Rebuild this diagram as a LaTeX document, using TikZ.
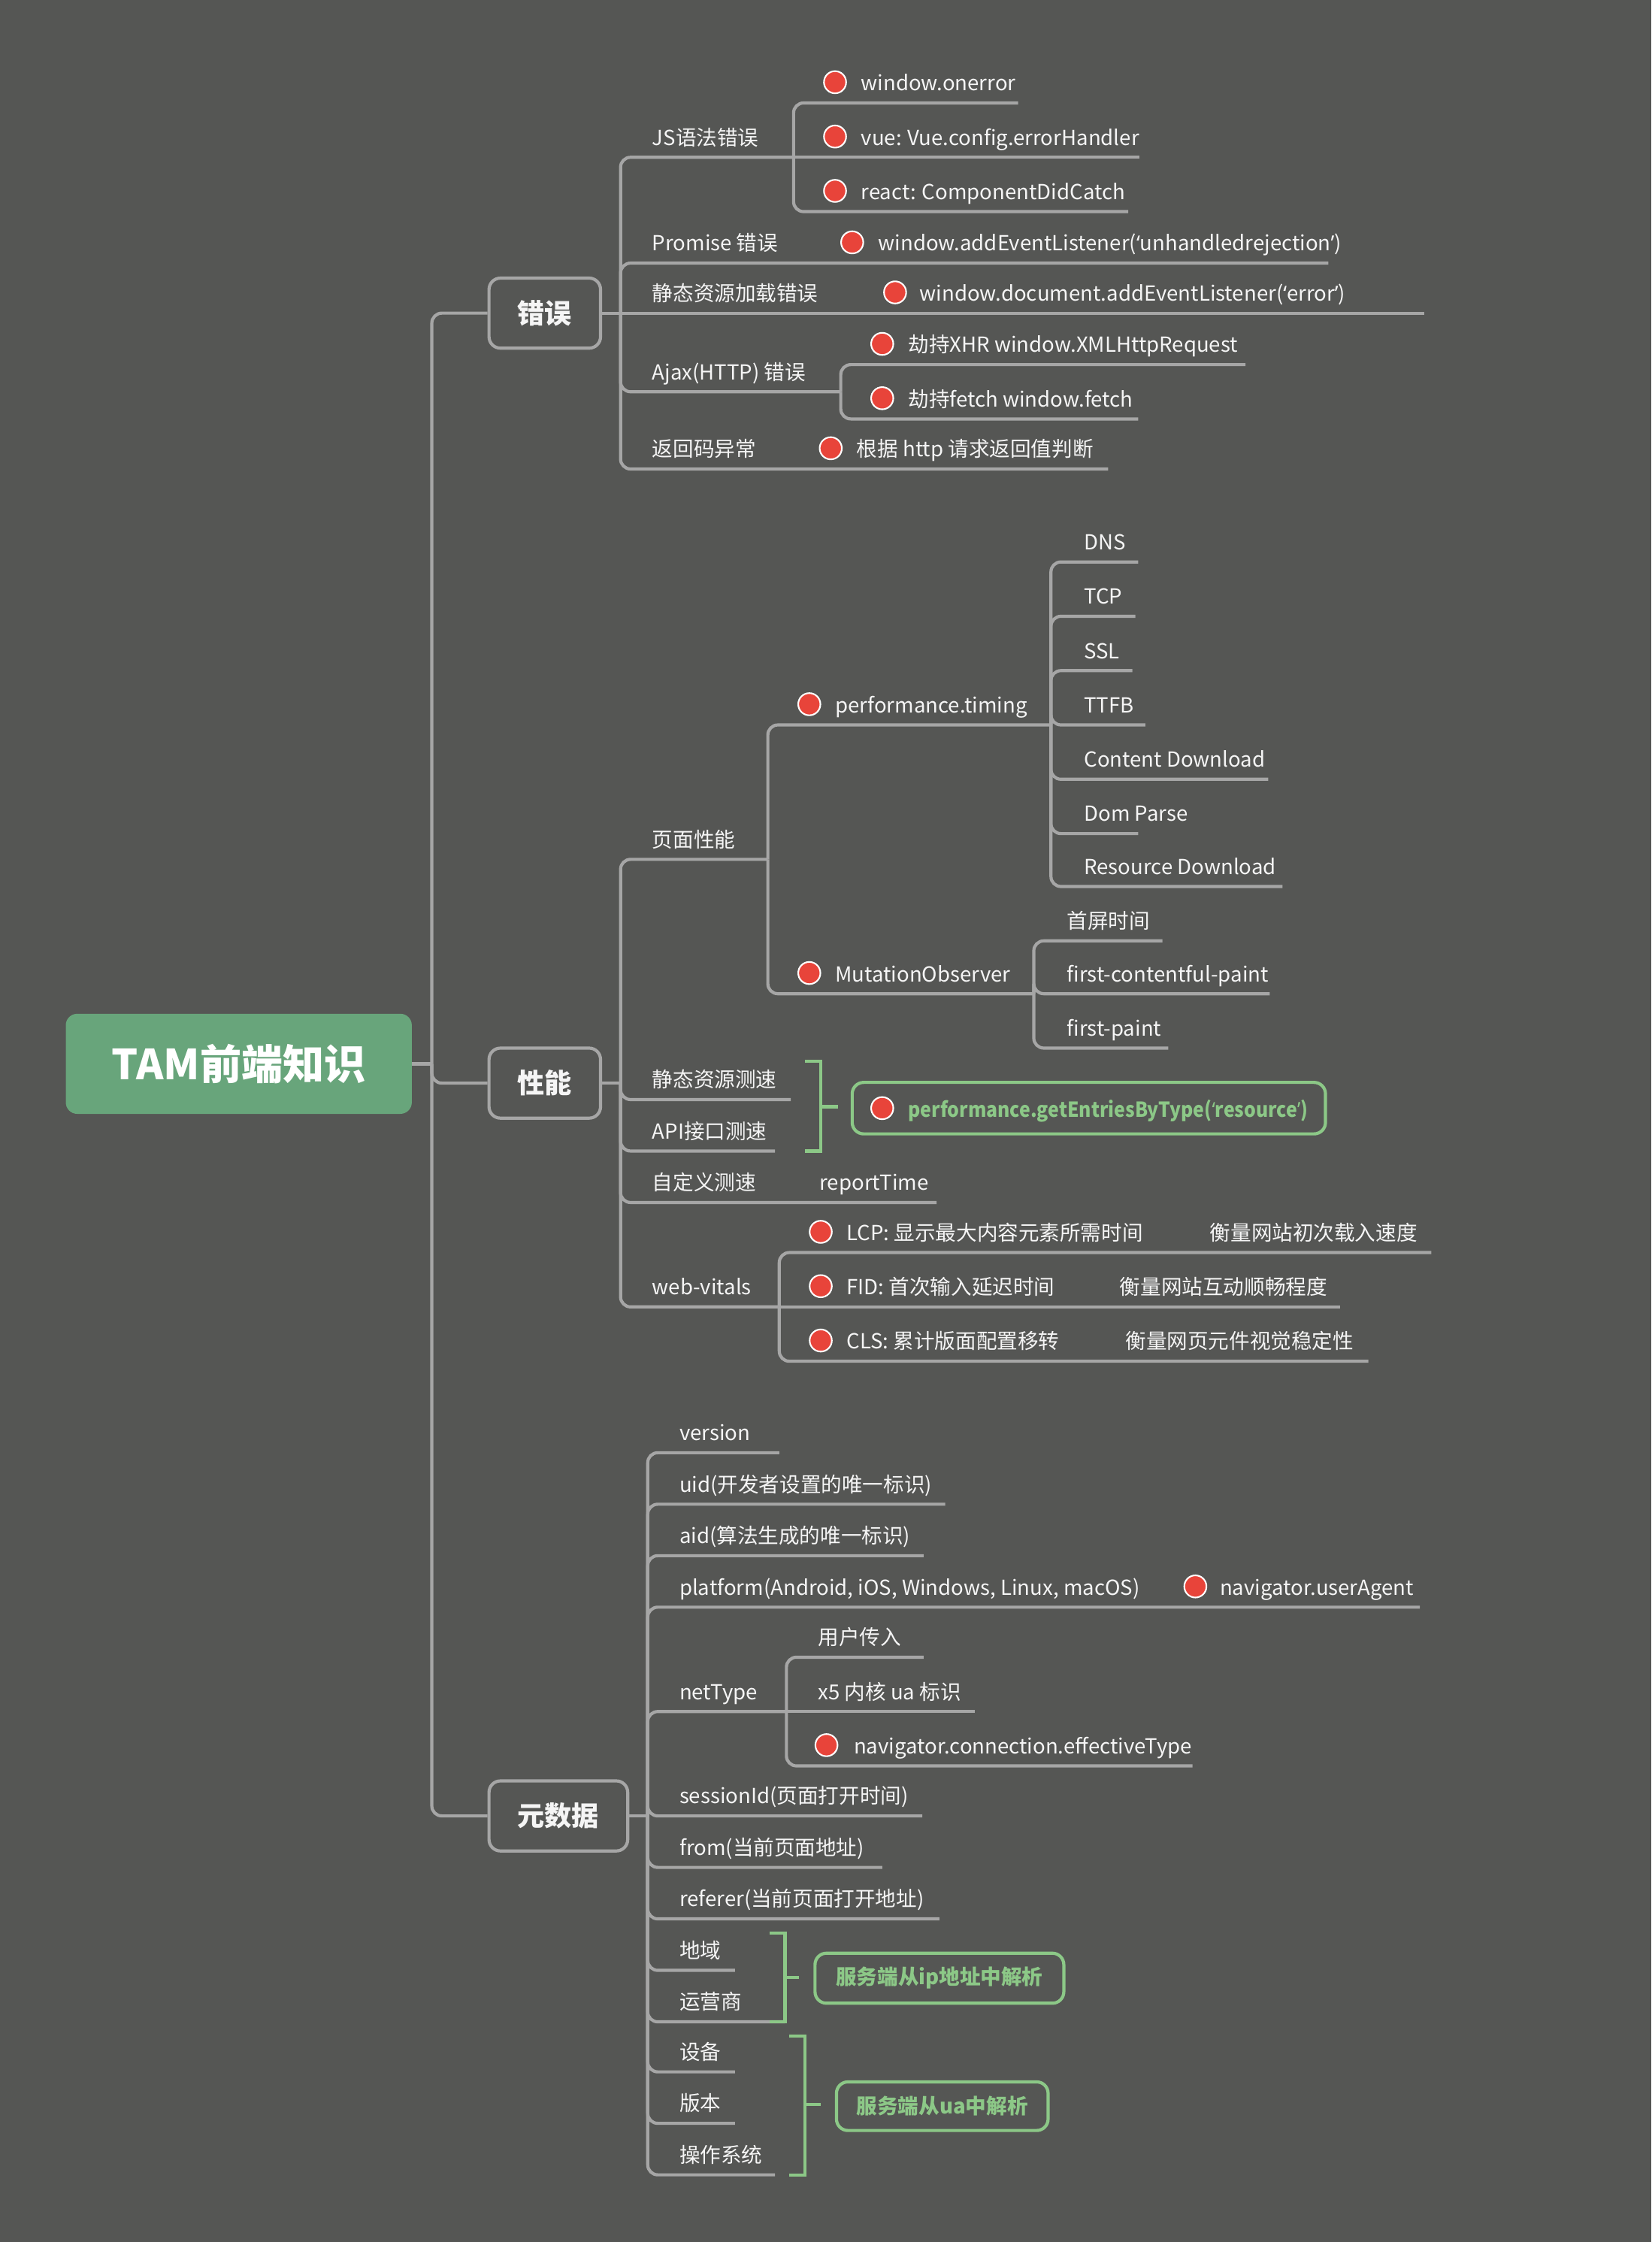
\documentclass[tikz,border=0pt]{standalone}
\usepackage{fontspec}
\setmainfont{Noto Sans CJK SC}
\newfontfamily\qf{Noto Sans}
\newfontfamily\gbf[FakeStretch=0.9]{Noto Sans CJK SC}
\newfontfamily\gqf[FakeStretch=0.9]{Noto Sans}
\newcommand\lqm{{\qf ‘}}
\newcommand\rqm{{\qf ’}}
\definecolor{bg}{HTML}{555654}
\definecolor{ln}{HTML}{A6A6A6}
\definecolor{rootg}{HTML}{68A57B}
\definecolor{gr}{HTML}{8CC887}
\definecolor{rd}{HTML}{E8443A}
\definecolor{tx}{HTML}{F5F5F5}
\begin{document}
\begin{tikzpicture}[x=1pt,y=-1pt,
  lf/.style={anchor=base west, inner sep=0pt, text=tx, font=\fontsize{14.5}{16}\selectfont, yshift=8.5pt},
  glf/.style={anchor=base west, inner sep=0pt, text=gr, font=\gbf\fontsize{14.5}{16}\selectfont\bfseries, yshift=8.5pt},
  dot/.style={circle, fill=rd, draw=white, line width=1.1pt, minimum size=15.5pt, inner sep=0pt},
  br/.style={draw=ln, line width=2.2pt, rounded corners=7pt},
  gline/.style={draw=gr, line width=2.2pt},
  l1/.style={draw=ln, line width=2.2pt, rounded corners=8pt, minimum height=49pt, inner sep=0pt, text=tx, font=\fontsize{19}{22}\selectfont\bfseries},
  gbox/.style={draw=gr, line width=2.2pt, rounded corners=8pt, inner sep=0pt},
  rootbox/.style={fill=rootg, rounded corners=8pt, minimum width=242pt, minimum height=70pt, inner sep=0pt, text=white, font=\fontsize{29}{32}\selectfont\bfseries}
]
\fill[bg] (0,0) rectangle (1155,1568);
\useasboundingbox (0,0) rectangle (1155,1568);

% ---------- root and level 1 ----------
\node[rootbox] (root) at (167,744) {TAM前端知识};
\node[l1, minimum width=78pt] (err) at (381,219) {错误};
\node[l1, minimum width=78pt] (perf) at (381,757.5) {性能};
\node[l1, minimum width=97pt] (meta) at (390.5,1270) {元数据};

\coordinate (T0) at (302,744);
\draw[br] (root.east) -- (T0);
\draw[br] (T0) |- (err.west);
\draw[br] (T0) |- (perf.west);
\draw[br] (T0) |- (meta.west);

% ---------- 错误 ----------
\coordinate (TE) at (434,219);
\draw[br] (err.east) -- (TE);

\node[lf] (js) at (456,110) {JS语法错误};
\coordinate (TJS) at (555,110);
\draw[br] (TE) |- (TJS);
\node[dot] (dj1) at (584,57.5) {};
\node[lf] (j1) at (602,72) {window.onerror};
\coordinate (ej1) at (712,72);
\node[dot] (dj2) at (584,95.5) {};
\node[lf] (j2) at (602,110) {vue: Vue.config.errorHandler};
\coordinate (ej2) at (797,110);
\node[dot] (dj3) at (584,133.5) {};
\node[lf] (j3) at (602,148) {react: ComponentDidCatch};
\coordinate (ej3) at (789,148);
\draw[br] (TJS) |- (ej1);
\draw[br] (TJS) -- (ej2);
\draw[br] (TJS) |- (ej3);

\node[lf] (pr) at (456,184) {Promise 错误};
\node[dot] (dpr) at (596,169.5) {};
\node[lf] (pr1) at (614,184) {window.addEventListener(\lqm unhandledrejection\rqm)};
\coordinate (epr) at (929,184);
\draw[br] (TE) |- (epr);

\node[lf] (st) at (456,219) {静态资源加载错误};
\node[dot] (dst) at (626,204.5) {};
\node[lf] (st1) at (643,219) {window.document.addEventListener(\lqm error\rqm)};
\coordinate (est) at (996,219);
\draw[br] (TE) -- (est);

\node[lf] (aj) at (456,274) {Ajax(HTTP) 错误};
\coordinate (TAJ) at (588,274);
\draw[br] (TE) |- (TAJ);
\node[dot] (da1) at (617,240.5) {};
\node[lf] (a1) at (635,255) {劫持XHR window.XMLHttpRequest};
\coordinate (ea1) at (871,255);
\node[dot] (da2) at (617,278.5) {};
\node[lf] (a2) at (635,293) {劫持fetch window.fetch};
\coordinate (ea2) at (796,293);
\draw[br] (TAJ) |- (ea1);
\draw[br] (TAJ) |- (ea2);

\node[lf] (rc) at (456,328) {返回码异常};
\node[dot] (drc) at (581,313.5) {};
\node[lf] (rc1) at (599,328) {根据 http 请求返回值判断};
\coordinate (erc) at (775,328);
\draw[br] (TE) |- (erc);

% ---------- 性能 ----------
\coordinate (TP) at (434,757.5);
\draw[br] (perf.east) -- (TP);

\node[lf] (pg) at (456,601) {页面性能};
\coordinate (TPG) at (537,601);
\draw[br] (TP) |- (TPG);

\node[dot] (dpt) at (566,492.5) {};
\node[lf] (pt) at (584,507) {performance.timing};
\coordinate (TPT) at (735,507);
\draw[br] (TPG) |- (TPT);
\node[lf] (t1) at (758,393) {DNS};
\coordinate (et1) at (796,393);
\node[lf] (t2) at (758,431) {TCP};
\coordinate (et2) at (794,431);
\node[lf] (t3) at (758,469) {SSL};
\coordinate (et3) at (792,469);
\node[lf] (t4) at (758,507) {TTFB};
\coordinate (et4) at (801,507);
\node[lf] (t5) at (758,545) {Content Download};
\coordinate (et5) at (887,545);
\node[lf] (t6) at (758,583) {Dom Parse};
\coordinate (et6) at (796,583);
\node[lf] (t7) at (758,620) {Resource Download};
\coordinate (et7) at (897,620);
\foreach \e in {et1,et2,et3,et4,et5,et6,et7} \draw[br] (TPT) |- (\e);

\node[dot] (dmo) at (566,680.5) {};
\node[lf] (mo) at (584,695) {MutationObserver};
\coordinate (TMO) at (723,695);
\draw[br] (TPG) |- (TMO);
\node[lf] (m1) at (746,658) {首屏时间};
\coordinate (em1) at (813,658);
\node[lf] (m2) at (746,695) {first-contentful-paint};
\coordinate (em2) at (888,695);
\node[lf] (m3) at (746,733) {first-paint};
\coordinate (em3) at (817,733);
\foreach \e in {em1,em2,em3} \draw[br] (TMO) |- (\e);

\node[lf] (sr) at (456,769) {静态资源测速};
\coordinate (esr) at (553,769);
\draw[br] (TP) |- (esr);
\node[lf] (api) at (456,805) {API接口测速};
\coordinate (eapi) at (542,805);
\draw[br] (TP) |- (eapi);

\coordinate (b1a) at (563,742);
\coordinate (b1b) at (563,805);
\coordinate (b1m) at (574,774);
\coordinate (b1t) at (586,774);
\draw[gline] (b1a) -| (b1m) |- (b1b);
\draw[gline] (b1m) -- (b1t);
\node[gbox, minimum width=331pt, minimum height=36pt] (gb1) at (761.5,775) {};
\node[dot] (dgb1) at (617,775) {};
\node[glf] (gt1) at (635,790) {performance.getEntriesByType({\gqf\bfseries ‘}resource{\gqf\bfseries ’})};

\node[lf] (cu) at (456,841) {自定义测速};
\node[lf] (cu1) at (573,841) {reportTime};
\coordinate (ecu) at (655,841);
\draw[br] (TP) |- (ecu);

\node[lf] (wv) at (456,914) {web-vitals};
\coordinate (TWV) at (545,914);
\draw[br] (TP) |- (TWV);
\node[dot] (dw1) at (574,861.5) {};
\node[lf] (w1) at (592,876) {LCP: 显示最大内容元素所需时间};
\node[lf] (w1b) at (846,876) {衡量网站初次载入速度};
\coordinate (ew1) at (1001,876);
\node[dot] (dw2) at (574,899.5) {};
\node[lf] (w2) at (592,914) {FID: 首次输入延迟时间};
\node[lf] (w2b) at (783,914) {衡量网站互动顺畅程度};
\coordinate (ew2) at (937,914);
\node[dot] (dw3) at (574,937.5) {};
\node[lf] (w3) at (592,952) {CLS: 累计版面配置移转};
\node[lf] (w3b) at (787,952) {衡量网页元件视觉稳定性};
\coordinate (ew3) at (957,952);
\draw[br] (TWV) |- (ew1);
\draw[br] (TWV) -- (ew2);
\draw[br] (TWV) |- (ew3);

% ---------- 元数据 ----------
\coordinate (TM) at (453,1270);
\draw[br] (meta.east) -- (TM);

\node[lf] (v1) at (475,1016) {version};
\coordinate (ev1) at (545,1016);
\node[lf] (v2) at (475,1052) {uid(开发者设置的唯一标识)};
\coordinate (ev2) at (661,1052);
\node[lf] (v3) at (475,1088) {aid(算法生成的唯一标识)};
\coordinate (ev3) at (646,1088);
\node[lf] (v4) at (475,1124) {platform(Android, iOS, Windows, Linux, macOS)};
\node[dot] (dv4) at (836,1109.5) {};
\node[lf] (v4b) at (853,1124) {navigator.userAgent};
\coordinate (ev4) at (993,1124);
\foreach \e in {ev1,ev2,ev3,ev4} \draw[br] (TM) |- (\e);

\node[lf] (nt) at (475,1197) {netType};
\coordinate (TNT) at (550,1197);
\draw[br] (TM) |- (TNT);
\node[lf] (n1) at (572,1159) {用户传入};
\coordinate (en1) at (646,1159);
\node[lf] (n2) at (572,1197) {x5 内核 ua 标识};
\coordinate (en2) at (682,1197);
\node[dot] (dn3) at (578,1220.5) {};
\node[lf] (n3) at (597,1235) {navigator.connection.effectiveType};
\coordinate (en3) at (834,1235);
\draw[br] (TNT) |- (en1);
\draw[br] (TNT) -- (en2);
\draw[br] (TNT) |- (en3);

\node[lf] (v5) at (475,1270) {sessionId(页面打开时间)};
\coordinate (ev5) at (645,1270);
\node[lf] (v6) at (475,1306) {from(当前页面地址)};
\coordinate (ev6) at (617,1306);
\node[lf] (v7) at (475,1342) {referer(当前页面打开地址)};
\coordinate (ev7) at (657,1342);
\node[lf] (v8) at (475,1378) {地域};
\coordinate (ev8) at (514,1378);
\node[lf] (v9) at (475,1414) {运营商};
\coordinate (ev9) at (549,1414);
\node[lf] (v10) at (475,1449) {设备};
\coordinate (ev10) at (514,1449);
\node[lf] (v11) at (475,1485) {版本};
\coordinate (ev11) at (514,1485);
\node[lf] (v12) at (475,1521) {操作系统};
\coordinate (ev12) at (542,1521);
\foreach \e in {ev5,ev6,ev7,ev8,ev9,ev10,ev11,ev12} \draw[br] (TM) |- (\e);

\coordinate (b2a) at (538,1352);
\coordinate (b2b) at (538,1414);
\coordinate (b2m) at (549,1383);
\coordinate (b2t) at (559,1383);
\draw[gline] (b2a) -| (b2m) |- (b2b);
\draw[gline] (b2m) -- (b2t);
\node[gbox, minimum width=174pt, minimum height=35pt, text=gr, font=\fontsize{14.5}{16}\selectfont\bfseries] (gb2) at (657,1383.5) {服务端从ip地址中解析};

\coordinate (b3a) at (552,1424);
\coordinate (b3b) at (552,1521);
\coordinate (b3m) at (563,1472);
\coordinate (b3t) at (574,1472);
\draw[gline] (b3a) -| (b3m) |- (b3b);
\draw[gline] (b3m) -- (b3t);
\node[gbox, minimum width=148pt, minimum height=34pt, text=gr, font=\fontsize{14.5}{16}\selectfont\bfseries] (gb3) at (659,1473) {服务端从ua中解析};
\end{tikzpicture}
\end{document}
